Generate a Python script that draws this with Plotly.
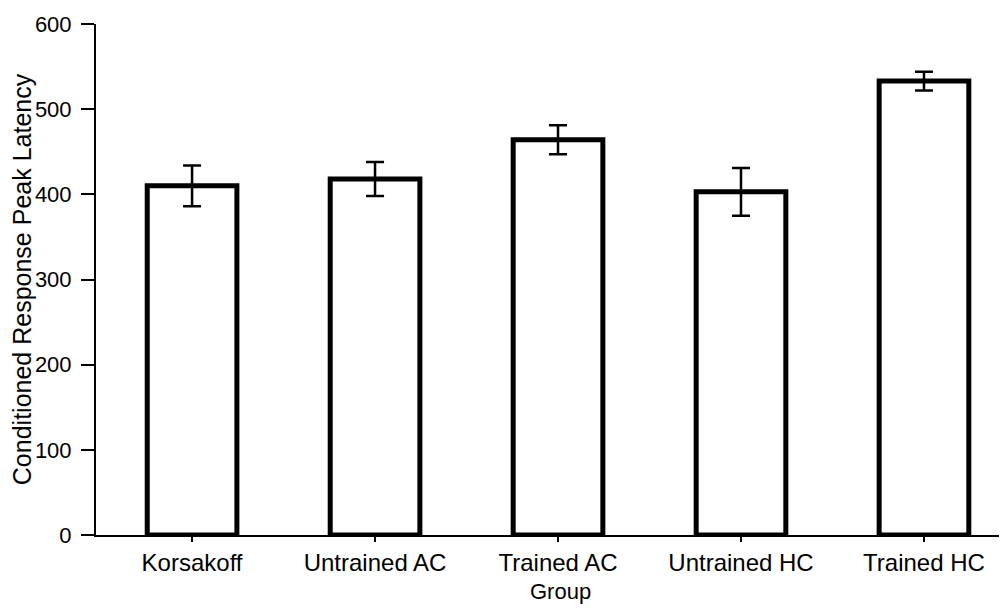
import plotly.graph_objects as go

categories = ["Korsakoff", "Untrained AC", "Trained AC", "Untrained HC", "Trained HC"]
means = [410, 418, 464, 403, 533]
errors = [24, 20, 17, 28, 11]
y_ticks = [0, 100, 200, 300, 400, 500, 600]

FONT = "Liberation Sans, Arial, Helvetica, sans-serif"

fig = go.Figure()
fig.add_trace(go.Bar(
    x=list(range(len(categories))),
    y=means,
    width=0.49,
    marker=dict(color="white", line=dict(color="black", width=5)),
    error_y=dict(type="data", array=errors, visible=True,
                 color="black", thickness=2.5, width=9),
    showlegend=False,
))

fig.update_layout(
    width=991, height=597,
    margin=dict(l=88, r=0, t=16, b=70),
    paper_bgcolor="white", plot_bgcolor="white",
    font=dict(family=FONT, color="black"),
    xaxis=dict(
        range=[-0.525, 4.41],
        tickmode="array",
        tickvals=list(range(len(categories))),
        ticktext=categories,
        tickfont=dict(size=24),
        ticks="outside", ticklen=5, tickwidth=2, tickcolor="black",
        showline=True, linecolor="black", linewidth=2,
        showgrid=False, zeroline=False,
        automargin=False,
    ),
    yaxis=dict(
        range=[0, 600],
        tickmode="array",
        tickvals=y_ticks,
        tickfont=dict(size=22),
        ticks="outside", ticklen=13, tickwidth=2, tickcolor="black",
        ticklabelstandoff=5,
        showline=True, linecolor="black", linewidth=2,
        showgrid=False, zeroline=False,
        title=dict(text="Conditioned Response Peak Latency", font=dict(size=25), standoff=2),
        automargin=False,
    ),
    annotations=[dict(
        text="Group", xref="paper", yref="paper", x=0.514, y=-0.1115,
        xanchor="center", yanchor="middle", showarrow=False,
        font=dict(size=22, family=FONT, color="black"),
    )],
)

fig.write_html("out.html")
